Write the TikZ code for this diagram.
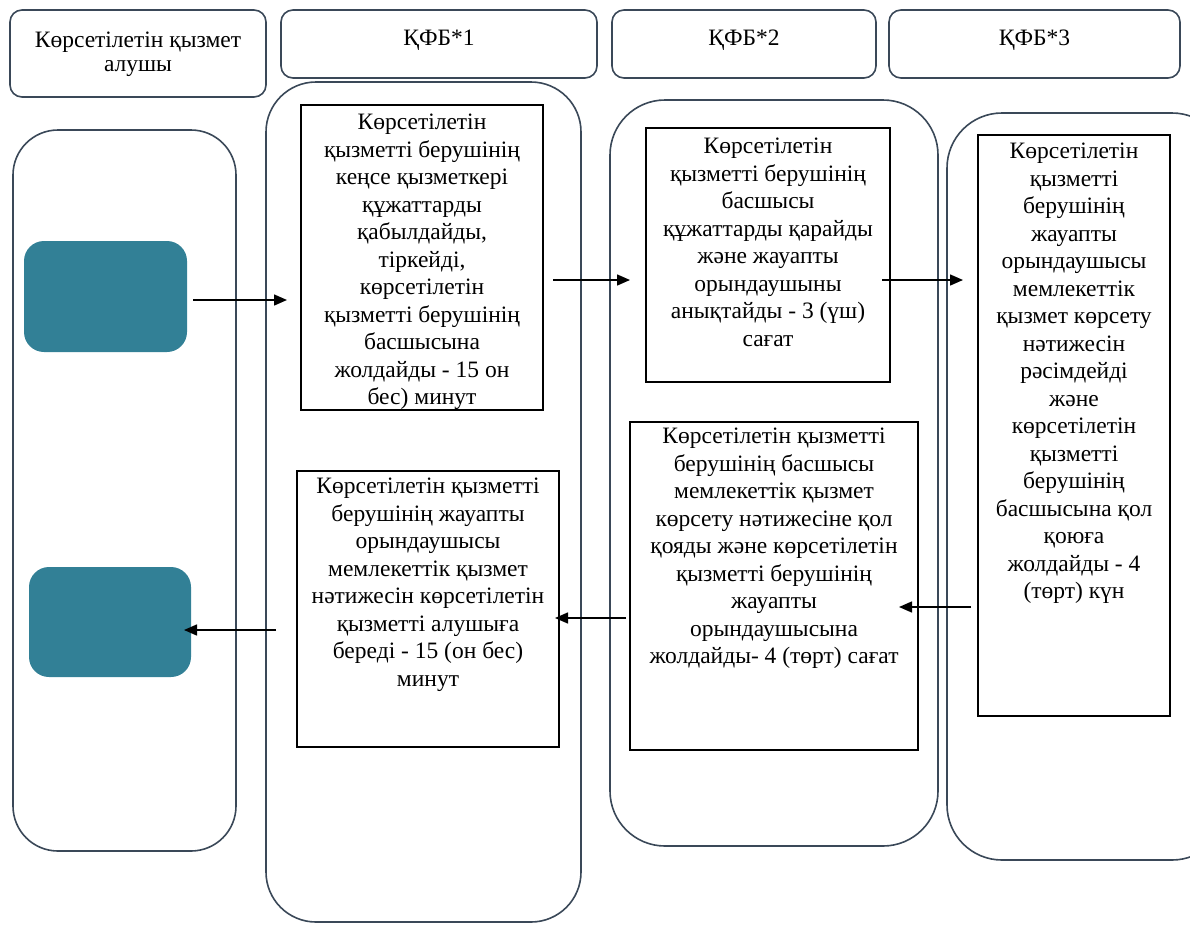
\documentclass[tikz,border=0pt]{standalone}
\usepackage{fontspec}
\setmainfont{Liberation Serif}
\usepackage{tikz}
\usetikzlibrary{positioning,arrows,arrows.meta}
\definecolor{lanecol}{RGB}{58,72,88}
\definecolor{tealcol}{RGB}{50,128,150}

\begin{document}
\begin{tikzpicture}[x=1pt,y=-1pt,>={Triangle[length=13pt,width=11pt]},
    every node/.style={inner sep=0pt,outer sep=0pt},
    head/.style={draw=lanecol,line width=1.6pt,rounded corners=12pt,anchor=north west},
    lane/.style={draw=lanecol,line width=1.6pt,anchor=north west},
    proc/.style={draw=black,line width=1.6pt,anchor=north west},
    term/.style={fill=tealcol,rounded corners=20pt,anchor=north west},
    tx/.style={align=center,font=\fontsize{23.5}{27.5}\selectfont},
    arr/.style={->,line width=1.5pt}]
    \useasboundingbox (0,0) rectangle (1190,926);
    % headers
    \node[head,minimum width=256pt,minimum height=87pt] (H0) at (10,10) {};
    \node[head,minimum width=316pt,minimum height=68pt] (H1) at (281,10) {};
    \node[head,minimum width=264pt,minimum height=68pt] (H2) at (612,10) {};
    \node[head,minimum width=291pt,minimum height=68pt] (H3) at (889,10) {};
    \node[tx,font=\fontsize{23.5}{23.5}\selectfont] at ([yshift=-1pt]H0) {Көрсетілетін қызмет\\алушы};
    \node[tx,below=20pt of H1.north] {ҚФБ*1};
    \node[tx,below=20pt of H2.north] {ҚФБ*2};
    \node[tx,below=20pt of H3.north] {ҚФБ*3};
    % lanes
    \node[lane,rounded corners=45pt,minimum width=223pt,minimum height=721pt] (L0) at (13,130) {};
    \node[lane,rounded corners=50pt,minimum width=315pt,minimum height=840pt] (L1) at (266,82) {};
    \node[lane,rounded corners=55pt,minimum width=328pt,minimum height=746pt] (L2) at (610,100) {};
    \node[lane,rounded corners=55pt,minimum width=280pt,minimum height=747pt] (L3) at (947,113) {};
    % start and end
    \node[term,minimum width=163pt,minimum height=111pt] (T1) at (24,241) {};
    \node[term,minimum width=162pt,minimum height=110pt] (T2) at (29,567) {};
    % steps
    \node[proc,minimum width=242pt,minimum height=305pt] (B1) at (301,105) {};
    \node[tx,below=9pt of B1.north] {Көрсетілетін\\қызметті берушінің\\кеңсе қызметкері\\құжаттарды\\қабылдайды,\\тіркейді,\\көрсетілетін\\қызметті берушінің\\басшысына\\жолдайды - 15 он\\бес) минут};
    \node[proc,minimum width=244pt,minimum height=254pt] (B2) at (646,128) {};
    \node[tx,below=10pt of B2.north] {Көрсетілетін\\қызметті берушінің\\басшысы\\құжаттарды қарайды\\және жауапты\\орындаушыны\\анықтайды - 3 (үш)\\сағат};
    \node[proc,minimum width=192pt,minimum height=581pt] (B3) at (978,135) {};
    \node[tx,below=8pt of B3.north] {Көрсетілетін\\қызметті\\берушінің\\жауапты\\орындаушысы\\мемлекеттік\\қызмет көрсету\\нәтижесін\\рәсімдейді\\және\\көрсетілетін\\қызметті\\берушінің\\басшысына қол\\қоюға\\жолдайды - 4\\(төрт) күн};
    \node[proc,minimum width=288pt,minimum height=328pt] (B5) at (630,422) {};
    \node[tx,below=6pt of B5.north] {Көрсетілетін қызметті\\берушінің басшысы\\мемлекеттік қызмет\\көрсету нәтижесіне қол\\қояды және көрсетілетін\\қызметті берушінің\\жауапты\\орындаушысына\\жолдайды- 4 (төрт) сағат};
    \node[proc,minimum width=262pt,minimum height=276pt] (B6) at (297,471) {};
    \node[tx,below=7pt of B6.north] {Көрсетілетін қызметті\\берушінің жауапты\\орындаушысы\\мемлекеттік қызмет\\нәтижесін көрсетілетін\\қызметті алушыға\\береді - 15 (он бес)\\минут};
    % arrows
    \coordinate (a1) at ([yshift=-3.5pt]T1.east);
    \coordinate (a2) at ([yshift=-22.5pt]B1.east);
    \coordinate (a3) at ([yshift=-25pt]B2.east);
    \coordinate (a4) at (B3.west |- 0,607);
    \coordinate (a5) at (B5.west |- 0,618);
    \coordinate (a6) at (B6.west |- 0,630);
    \draw[arr,shorten <=6pt,shorten >=14pt] (a1) -- (a1 -| B1.west);
    \draw[arr,shorten <=10pt,shorten >=16pt] (a2) -- (a2 -| B2.west);
    \draw[arr,shorten <=-8pt,shorten >=15pt] (a3) -- (a3 -| B3.west);
    \draw[arr,shorten <=7pt,shorten >=-19pt] (a4) -- (a4 -| B5.east);
    \draw[arr,shorten <=4pt,shorten >=-4pt] (a5) -- (a5 -| B6.east);
    \draw[arr,shorten <=21pt,shorten >=-7pt] (a6) -- (a6 -| T2.east);
\end{tikzpicture}
\end{document}
